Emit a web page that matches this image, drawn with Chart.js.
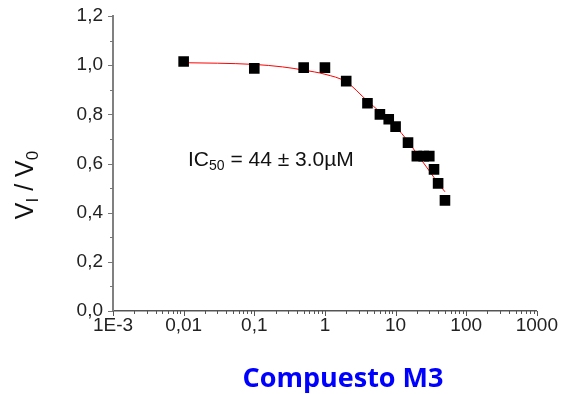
<!DOCTYPE html>
<html>
<head>
<meta charset="utf-8">
<script src="https://cdn.jsdelivr.net/npm/chart.js@4"></script>
<style>
    html, body { margin: 0; padding: 0; background: #fff; }
    #wrap { width: 561px; height: 394px; position: relative; }
</style>
</head>
<body>
<div id="wrap"><canvas id="ic50Chart"></canvas></div>
<script>
// Measured points (concentration in uM, Vi/V0)
const concentrations = [0.01, 0.1, 0.5, 1, 2, 4, 6, 8, 10, 15, 20, 25, 30, 35, 40, 50];
const ratios = [1.015, 0.987, 0.99, 0.99, 0.935, 0.845, 0.80, 0.78, 0.75, 0.685, 0.63, 0.63, 0.63, 0.576, 0.519, 0.45];

// Fitted curve
const fitX = [0.01, 0.03, 0.1, 0.25, 0.5, 1, 2, 4, 6, 8, 10, 15, 20, 30, 40, 50];
const fitY = [1.01, 1.008, 1.003, 0.993, 0.98, 0.963, 0.932, 0.854, 0.81, 0.775, 0.75, 0.69, 0.64, 0.57, 0.52, 0.485];

// Axis ticks
const xTickValues = [0.001, 0.01, 0.1, 1, 10, 100, 1000];
const xTickLabels = ['1E-3', '0,01', '0,1', '1', '10', '100', '1000'];
const yTickValues = [0, 0.2, 0.4, 0.6, 0.8, 1.0, 1.2];
const yTickLabels = ['0,0', '0,2', '0,4', '0,6', '0,8', '1,0', '1,2'];

const tickFont = { family: 'Liberation Sans', size: 19 };

// Draws major/minor tick marks, axis title and annotation
const decorations = {
    id: 'decorations',
    afterDraw(chart) {
        const ctx = chart.ctx;
        const xs = chart.scales.x, ys = chart.scales.y;
        const area = chart.chartArea;
        ctx.save();

        // x ticks
        ctx.strokeStyle = '#555';
        ctx.lineWidth = 1;
        xTickValues.forEach((v, i) => {
            const px = Math.round(xs.getPixelForValue(v)) + 0.5;
            ctx.beginPath();
            ctx.moveTo(px, area.bottom);
            ctx.lineTo(px, area.bottom + 5);
            ctx.stroke();
            if (i < xTickValues.length - 1) {
                for (let m = 2; m <= 9; m++) {
                    const mx = Math.round(xs.getPixelForValue(v * m)) + 0.5;
                    ctx.beginPath();
                    ctx.moveTo(mx, area.bottom);
                    ctx.lineTo(mx, area.bottom + 3);
                    ctx.stroke();
                }
            }
        });

        // y ticks
        ctx.strokeStyle = '#777';
        yTickValues.forEach((v, i) => {
            const py = Math.round(ys.getPixelForValue(v)) + 0.5;
            ctx.beginPath();
            ctx.moveTo(area.left, py);
            ctx.lineTo(area.left - 5, py);
            ctx.stroke();
            if (i < yTickValues.length - 1) {
                const my = Math.round(ys.getPixelForValue(v + 0.1)) + 0.5;
                ctx.beginPath();
                ctx.moveTo(area.left, my);
                ctx.lineTo(area.left - 3, my);
                ctx.stroke();
            }
        });

        // y axis title: V_I / V_0
        ctx.fillStyle = '#111';
        ctx.textBaseline = 'alphabetic';
        ctx.textAlign = 'left';
        const big = '25px "Liberation Sans"', small = '17px "Liberation Sans"';
        const parts = [['V', big, 0], ['I', small, 5], [' / ', big, 0], ['V', big, 0], ['0', small, 5]];
        let total = 0;
        parts.forEach(p => { ctx.font = p[1]; total += ctx.measureText(p[0]).width; });
        ctx.translate(33, 185);
        ctx.rotate(-Math.PI / 2);
        let cx = -total / 2;
        parts.forEach(p => {
            ctx.font = p[1];
            ctx.fillText(p[0], cx, p[2]);
            cx += ctx.measureText(p[0]).width;
        });
        ctx.setTransform(1, 0, 0, 1, 0, 0);

        // IC50 annotation
        const ann = [['IC', '21px "Liberation Sans"', 0], ['50', '14px "Liberation Sans"', 4], [' = 44 \u00b1 3.0\u00b5M', '21px "Liberation Sans"', 0]];
        let ax = 188;
        ann.forEach(p => {
            ctx.font = p[1];
            ctx.fillText(p[0], ax, 166 + p[2]);
            ax += ctx.measureText(p[0]).width;
        });

        // compound name under the x axis
        ctx.font = 'bold 27px "Open Sans"';
        ctx.fillStyle = '#0000ff';
        ctx.textAlign = 'center';
        ctx.fillText('Compuesto M3', 343, 387);

        ctx.restore();
    }
};

const ctx = document.getElementById('ic50Chart');
new Chart(ctx, {
    type: 'scatter',
    data: {
        datasets: [{
            label: 'Fit',
            type: 'line',
            data: fitX.map((x, i) => ({ x: x, y: fitY[i] })),
            borderColor: '#ff0000',
            borderWidth: 1,
            pointRadius: 0,
            fill: false,
            cubicInterpolationMode: 'monotone',
            order: 2
        }, {
            label: 'M3',
            data: concentrations.map((x, i) => ({ x: x, y: ratios[i] })),
            backgroundColor: '#000',
            borderColor: '#000',
            borderWidth: 0,
            pointStyle: 'rect',
            pointRadius: 7.5,
            order: 1
        }]
    },
    options: {
        responsive: true,
        maintainAspectRatio: false,
        animation: false,
        layout: { padding: { left: 0, top: 16, right: 23, bottom: 0 } },
        plugins: {
            legend: { display: false },
            tooltip: { enabled: false }
        },
        scales: {
            x: {
                type: 'logarithmic',
                min: 0.001,
                max: 1000,
                grid: { display: false, drawTicks: false },
                border: { display: true, color: '#555', width: 1.5 },
                afterBuildTicks: scale => { scale.ticks = xTickValues.map(v => ({ value: v })); },
                afterFit: scale => { scale.height = 83; },
                ticks: {
                    autoSkip: false,
                    maxRotation: 0,
                    padding: 3,
                    color: '#222',
                    font: tickFont,
                    callback: function (value) {
                        const i = xTickValues.indexOf(value);
                        return i >= 0 ? xTickLabels[i] : '';
                    }
                }
            },
            y: {
                min: 0,
                max: 1.2,
                grid: { display: false, drawTicks: false },
                border: { display: true, color: '#808080', width: 2 },
                afterBuildTicks: scale => { scale.ticks = yTickValues.map(v => ({ value: v })); },
                afterFit: scale => {
                    scale.width = 113;
                    scale.paddingTop = 0;
                    scale.paddingBottom = 0;
                },
                ticks: {
                    padding: 10,
                    color: '#222',
                    font: tickFont,
                    callback: function (value) {
                        const i = yTickValues.findIndex(v => Math.abs(v - value) < 1e-6);
                        return i >= 0 ? yTickLabels[i] : '';
                    }
                }
            }
        }
    },
    plugins: [decorations]
});
</script>
</body>
</html>
